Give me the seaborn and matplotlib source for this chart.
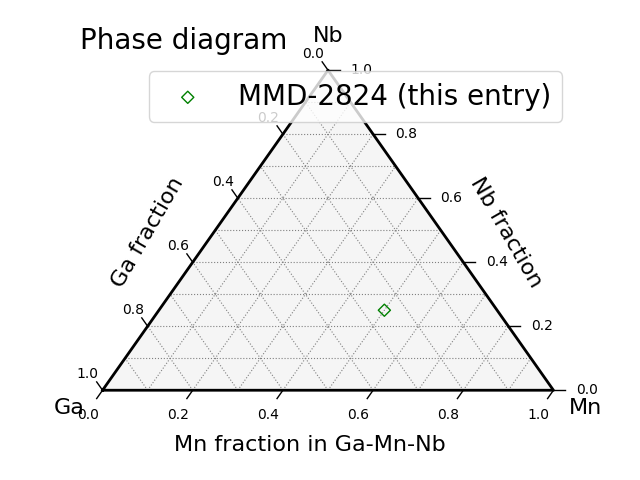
import numpy as np
import pandas as pd
import seaborn as sns
import matplotlib.pyplot as plt

# composition of the entry (fractions), Ga is the remainder
entry_names = ['MMD-2824 (this entry)']
entry_mn = [0.5]
entry_nb = [0.25]

corner_labels = ['Ga', 'Mn', 'Nb']
tick_locs = [0.0, 0.2, 0.4, 0.6, 0.8, 1.0]
grid_locs = [0.1, 0.2, 0.3, 0.4, 0.5, 0.6, 0.7, 0.8, 0.9]
offset = 0.026


def proj(mn, nb):
    # ternary (Mn, Nb) -> cartesian
    return mn + nb / 2.0, nb * np.sqrt(3) / 2.0


def seg(ax, p1, p2, **kw):
    x1, y1 = proj(*p1)
    x2, y2 = proj(*p2)
    ax.plot([x1, x2], [y1, y2], **kw)


fig, ax = plt.subplots(figsize=(6.4, 4.8), dpi=100)

# triangle background
cx, cy = proj(np.array([0, 1, 0]), np.array([0, 0, 1]))
ax.fill(cx, cy, color='#f5f5f5', zorder=0)

# gridlines
for v in grid_locs:
    grid_kw = dict(color='gray', lw=0.8, ls=':', zorder=1)
    seg(ax, (0, v), (1 - v, v), **grid_kw)
    seg(ax, (v, 0), (v, 1 - v), **grid_kw)
    seg(ax, (1 - v, 0), (0, 1 - v), **grid_kw)

# boundary
ax.plot(np.append(cx, cx[0]), np.append(cy, cy[0]), color='black', lw=2, zorder=2)

# ticks
for i in tick_locs:
    # bottom: Mn fraction
    seg(ax, (i, 0), (i, -offset), color='black', lw=1)
    x, y = proj(i + 0.5 * offset, -3.5 * offset)
    ax.text(x, y, f'{i:.1f}', ha='center', fontsize=10)
    # right: Nb fraction
    seg(ax, (1 - i, i), (1 - i + offset, i), color='black', lw=1)
    x, y = proj(1 - i + 3.1 * offset, i - 0.5 * offset)
    ax.text(x, y, f'{i:.1f}', ha='center', fontsize=10)
    # left: Ga fraction
    seg(ax, (0, i), (-offset, i + offset), color='black', lw=1)
    x, y = proj(-2 * offset, i + 1.5 * offset)
    ax.text(x, y, f'{1 - i:.1f}', ha='center', fontsize=10)

# the entry
px, py = proj(np.array(entry_mn), np.array(entry_nb))
df = pd.DataFrame({'x': px, 'y': py, 'name': entry_names})
sns.scatterplot(data=df, x='x', y='y', marker='D', s=38, facecolors='none',
                edgecolor='green', linewidth=1, label=entry_names[0], ax=ax, zorder=5)

# corner and axis labels
ax.text(-0.073, -0.049, corner_labels[0], ha='center', va='center', fontsize=16)
ax.text(1.071, -0.049, corner_labels[1], ha='center', va='center', fontsize=16)
ax.text(0.5, 0.958, corner_labels[2], ha='center', va='center', fontsize=16)
ax.text(0.46, -0.147, 'Mn fraction in Ga-Mn-Nb', ha='center', va='center', fontsize=16)
ax.text(0.10, 0.426, 'Ga fraction', ha='center', va='center', rotation=60, fontsize=16)
ax.text(0.896, 0.426, 'Nb fraction', ha='center', va='center', rotation=-60, fontsize=16)

ax.set_xlim(-0.05, 1.05)
ax.set_ylim(-0.10, 0.90)
ax.axis('off')
ax.set_title('Phase diagram', loc='left', fontsize=20)
ax.legend(loc='upper right', fontsize=20)

fig.savefig('out.png', dpi=100)
